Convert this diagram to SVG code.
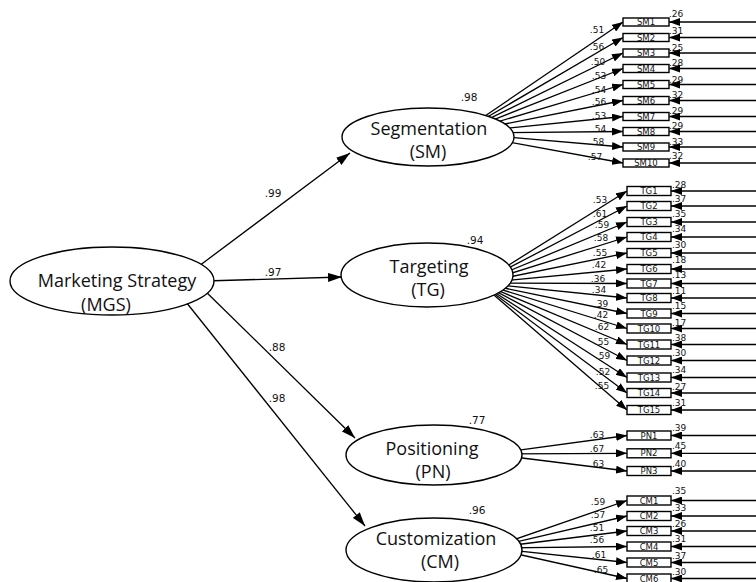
<svg xmlns="http://www.w3.org/2000/svg" width="756" height="582" viewBox="0 0 756 582">
<defs>
<marker id="ah" markerUnits="userSpaceOnUse" markerWidth="11" markerHeight="8" refX="11" refY="4" orient="auto"><path d="M0,0 L11,4 L0,8 z" fill="#000"/></marker>
<marker id="big" markerUnits="userSpaceOnUse" markerWidth="14" markerHeight="9" refX="14" refY="4.5" orient="auto"><path d="M0,0 L14,4.5 L0,9 z" fill="#000"/></marker>
</defs>
<style>
.ln{stroke:#000;stroke-width:1.3;fill:none;marker-end:url(#ah)}
.mn{stroke:#000;stroke-width:1.3;fill:none;marker-end:url(#big)}
.el{fill:#fff;stroke:#000;stroke-width:1.4}
.bx{fill:#fff;stroke:#000;stroke-width:1.4}
.big{font-family:"Open Sans","Liberation Sans",sans-serif;font-size:18px;fill:#111;text-anchor:middle}
.pl{font-family:"DejaVu Sans",sans-serif;font-size:10.5px;fill:#111;text-anchor:middle}
.ld{font-family:"DejaVu Sans",sans-serif;font-size:9px;fill:#111;text-anchor:middle}
.er{font-family:"DejaVu Sans",sans-serif;font-size:9px;fill:#111}
.bt{font-family:"DejaVu Sans",sans-serif;font-size:8.5px;fill:#111;text-anchor:middle}
</style>
<rect width="756" height="582" fill="#fff"/>
<g id="connectors">
<line class="mn" x1="195" y1="269" x2="350" y2="153"/>
<line class="mn" x1="205" y1="281" x2="342" y2="277"/>
<line class="mn" x1="200" y1="286" x2="355" y2="438"/>
<line class="mn" x1="186" y1="302" x2="365" y2="526"/>
<text class="pl" x="273" y="197">.99</text>
<text class="pl" x="273" y="276">.97</text>
<text class="pl" x="277" y="351">.88</text>
<text class="pl" x="277" y="402">.98</text>
<!-- SM loadings -->
<line class="ln" x1="460" y1="133" x2="623" y2="22"/>
<line class="ln" x1="460" y1="133" x2="623" y2="37.5"/>
<line class="ln" x1="460" y1="133" x2="623" y2="53"/>
<line class="ln" x1="460" y1="133" x2="623" y2="68.5"/>
<line class="ln" x1="460" y1="133" x2="623" y2="84.5"/>
<line class="ln" x1="460" y1="133" x2="623" y2="100.5"/>
<line class="ln" x1="460" y1="133" x2="623" y2="116.5"/>
<line class="ln" x1="460" y1="133" x2="623" y2="131.5"/>
<line class="ln" x1="460" y1="133" x2="623" y2="147"/>
<line class="ln" x1="460" y1="133" x2="623" y2="163"/>
<text class="ld" x="597" y="32.5">.51</text>
<text class="ld" x="597" y="49.5">.56</text>
<text class="ld" x="598" y="64.5">.50</text>
<text class="ld" x="599" y="78.5">.53</text>
<text class="ld" x="599" y="92.5">.54</text>
<text class="ld" x="599" y="104.5">.56</text>
<text class="ld" x="599" y="118.5">.53</text>
<text class="ld" x="599" y="131.5">.54</text>
<text class="ld" x="597" y="144.5">.58</text>
<text class="ld" x="595" y="159.5">.57</text>
<!-- TG loadings -->
<line class="ln" x1="480" y1="283" x2="627" y2="191"/>
<line class="ln" x1="480" y1="283" x2="627" y2="206"/>
<line class="ln" x1="480" y1="283" x2="627" y2="222"/>
<line class="ln" x1="480" y1="283" x2="627" y2="237"/>
<line class="ln" x1="480" y1="283" x2="627" y2="253"/>
<line class="ln" x1="480" y1="283" x2="627" y2="269"/>
<line class="ln" x1="480" y1="283" x2="627" y2="283.5"/>
<line class="ln" x1="480" y1="283" x2="627" y2="298"/>
<line class="ln" x1="480" y1="283" x2="627" y2="313.5"/>
<line class="ln" x1="480" y1="283" x2="627" y2="328.5"/>
<line class="ln" x1="480" y1="283" x2="627" y2="344.5"/>
<line class="ln" x1="480" y1="283" x2="627" y2="360.5"/>
<line class="ln" x1="480" y1="283" x2="627" y2="377.5"/>
<line class="ln" x1="480" y1="283" x2="627" y2="393"/>
<line class="ln" x1="480" y1="283" x2="627" y2="410"/>
<text class="ld" x="600" y="202.5">.53</text>
<text class="ld" x="600" y="216.5">.61</text>
<text class="ld" x="602" y="227.5">.59</text>
<text class="ld" x="601" y="240.5">.58</text>
<text class="ld" x="600" y="255.5">.55</text>
<text class="ld" x="599" y="267.5">.42</text>
<text class="ld" x="598" y="281.5">.36</text>
<text class="ld" x="599" y="292.5">.34</text>
<text class="ld" x="601" y="306.5">.39</text>
<text class="ld" x="601" y="317.5">.42</text>
<text class="ld" x="602" y="329.5">.62</text>
<text class="ld" x="602" y="344.5">.55</text>
<text class="ld" x="603" y="358.5">.59</text>
<text class="ld" x="603" y="374.5">.52</text>
<text class="ld" x="602" y="388.5">.55</text>
<!-- PN loadings -->
<line class="ln" x1="490" y1="454" x2="627" y2="435.5"/>
<line class="ln" x1="490" y1="454" x2="627" y2="453.3"/>
<line class="ln" x1="490" y1="454" x2="627" y2="471"/>
<text class="ld" x="597" y="438">.63</text>
<text class="ld" x="597" y="452">.67</text>
<text class="ld" x="597" y="467">.63</text>
<!-- CM loadings -->
<line class="ln" x1="490" y1="548" x2="627" y2="500.5"/>
<line class="ln" x1="490" y1="548" x2="627" y2="516"/>
<line class="ln" x1="490" y1="548" x2="627" y2="531"/>
<line class="ln" x1="490" y1="548" x2="627" y2="546.5"/>
<line class="ln" x1="490" y1="548" x2="627" y2="562.5"/>
<line class="ln" x1="490" y1="548" x2="627" y2="578.5"/>
<text class="ld" x="598" y="504.5">.59</text>
<text class="ld" x="598" y="517.5">.57</text>
<text class="ld" x="597" y="530.5">.51</text>
<text class="ld" x="597" y="542.5">.56</text>
<text class="ld" x="599" y="557.5">.61</text>
<text class="ld" x="601" y="572.5">.65</text>
<!-- error arrows -->
<line class="ln" x1="756" y1="22" x2="669" y2="22"/>
<line class="ln" x1="756" y1="37.5" x2="669" y2="37.5"/>
<line class="ln" x1="756" y1="53" x2="669" y2="53"/>
<line class="ln" x1="756" y1="68.5" x2="669" y2="68.5"/>
<line class="ln" x1="756" y1="84.5" x2="669" y2="84.5"/>
<line class="ln" x1="756" y1="100.5" x2="669" y2="100.5"/>
<line class="ln" x1="756" y1="116.5" x2="669" y2="116.5"/>
<line class="ln" x1="756" y1="131.5" x2="669" y2="131.5"/>
<line class="ln" x1="756" y1="147" x2="669" y2="147"/>
<line class="ln" x1="756" y1="163" x2="669" y2="163"/>
<line class="ln" x1="756" y1="191" x2="671" y2="191"/>
<line class="ln" x1="756" y1="206" x2="671" y2="206"/>
<line class="ln" x1="756" y1="222" x2="671" y2="222"/>
<line class="ln" x1="756" y1="237" x2="671" y2="237"/>
<line class="ln" x1="756" y1="253" x2="671" y2="253"/>
<line class="ln" x1="756" y1="269" x2="671" y2="269"/>
<line class="ln" x1="756" y1="283.5" x2="671" y2="283.5"/>
<line class="ln" x1="756" y1="298" x2="671" y2="298"/>
<line class="ln" x1="756" y1="313.5" x2="671" y2="313.5"/>
<line class="ln" x1="756" y1="328.5" x2="671" y2="328.5"/>
<line class="ln" x1="756" y1="344.5" x2="671" y2="344.5"/>
<line class="ln" x1="756" y1="360.5" x2="671" y2="360.5"/>
<line class="ln" x1="756" y1="377.5" x2="671" y2="377.5"/>
<line class="ln" x1="756" y1="393" x2="671" y2="393"/>
<line class="ln" x1="756" y1="410" x2="671" y2="410"/>
<line class="ln" x1="756" y1="435.5" x2="671" y2="435.5"/>
<line class="ln" x1="756" y1="453.3" x2="671" y2="453.3"/>
<line class="ln" x1="756" y1="471" x2="671" y2="471"/>
<line class="ln" x1="756" y1="500.5" x2="671" y2="500.5"/>
<line class="ln" x1="756" y1="516" x2="671" y2="516"/>
<line class="ln" x1="756" y1="531" x2="671" y2="531"/>
<line class="ln" x1="756" y1="546.5" x2="671" y2="546.5"/>
<line class="ln" x1="756" y1="562.5" x2="671" y2="562.5"/>
<line class="ln" x1="756" y1="578.5" x2="671" y2="578.5"/>
<text class="er" x="669" y="16.5">.26</text>
<text class="er" x="669" y="33.5">.31</text>
<text class="er" x="669" y="50.5">.25</text>
<text class="er" x="669" y="65.5">.28</text>
<text class="er" x="669" y="82.5">.29</text>
<text class="er" x="669" y="97.5">.32</text>
<text class="er" x="669" y="113.5">.29</text>
<text class="er" x="669" y="128.5">.29</text>
<text class="er" x="669" y="144.5">.33</text>
<text class="er" x="669" y="158.5">.32</text>
<text class="er" x="672" y="187.5">.28</text>
<text class="er" x="672" y="201.5">.37</text>
<text class="er" x="672" y="216.5">.35</text>
<text class="er" x="672" y="231.5">.34</text>
<text class="er" x="672" y="247.5">.30</text>
<text class="er" x="672" y="262.5">.18</text>
<text class="er" x="672" y="277.5">.13</text>
<text class="er" x="672" y="293.5">.11</text>
<text class="er" x="672" y="308.5">.15</text>
<text class="er" x="672" y="325.5">.17</text>
<text class="er" x="672" y="340.5">.38</text>
<text class="er" x="672" y="355.5">.30</text>
<text class="er" x="672" y="372.5">.34</text>
<text class="er" x="672" y="389.5">.27</text>
<text class="er" x="672" y="405.5">.31</text>
<text class="er" x="672" y="430.5">.39</text>
<text class="er" x="672" y="448.5">.45</text>
<text class="er" x="672" y="466.5">.40</text>
<text class="er" x="672" y="494">.35</text>
<text class="er" x="672" y="510.5">.33</text>
<text class="er" x="672" y="526.5">.26</text>
<text class="er" x="672" y="541.5">.31</text>
<text class="er" x="672" y="558.5">.37</text>
<text class="er" x="672" y="575">.30</text>
</g>
<g id="MGS">
<ellipse class="el" cx="112" cy="281" rx="102" ry="34"/>
<text class="big" x="117" y="287">Marketing Strategy</text>
<text class="big" x="106" y="311">(MGS)</text>
</g>
<g id="SM">
<ellipse class="el" cx="428" cy="137" rx="86" ry="29"/>
<text class="big" x="429" y="135">Segmentation</text>
<text class="big" x="428" y="158">(SM)</text>
<text class="pl" x="469" y="101">.98</text>
</g>
<g id="TG">
<ellipse class="el" cx="427" cy="275" rx="86" ry="32"/>
<text class="big" x="429" y="273">Targeting</text>
<text class="big" x="428" y="296">(TG)</text>
<text class="pl" x="475" y="244">.94</text>
</g>
<g id="PN">
<ellipse class="el" cx="434" cy="455" rx="88" ry="30"/>
<text class="big" x="432" y="454.5">Positioning</text>
<text class="big" x="433" y="477.5">(PN)</text>
<text class="pl" x="477" y="424">.77</text>
</g>
<g id="CM">
<ellipse class="el" cx="434" cy="550" rx="88" ry="32"/>
<text class="big" x="436" y="545">Customization</text>
<text class="big" x="440" y="568">(CM)</text>
<text class="pl" x="477" y="514">.96</text>
</g>
<g id="SM1"><rect class="bx" x="623" y="18" width="46" height="8"/><text class="bt" x="646" y="25">SM1</text></g>
<g id="SM2"><rect class="bx" x="623" y="33.5" width="46" height="8"/><text class="bt" x="646" y="40.5">SM2</text></g>
<g id="SM3"><rect class="bx" x="623" y="49" width="46" height="8"/><text class="bt" x="646" y="56">SM3</text></g>
<g id="SM4"><rect class="bx" x="623" y="64.5" width="46" height="8"/><text class="bt" x="646" y="71.5">SM4</text></g>
<g id="SM5"><rect class="bx" x="623" y="80.5" width="46" height="8"/><text class="bt" x="646" y="87.5">SM5</text></g>
<g id="SM6"><rect class="bx" x="623" y="96.5" width="46" height="8"/><text class="bt" x="646" y="103.5">SM6</text></g>
<g id="SM7"><rect class="bx" x="623" y="112.5" width="46" height="8"/><text class="bt" x="646" y="119.5">SM7</text></g>
<g id="SM8"><rect class="bx" x="623" y="127.5" width="46" height="8"/><text class="bt" x="646" y="134.5">SM8</text></g>
<g id="SM9"><rect class="bx" x="623" y="143" width="46" height="8"/><text class="bt" x="646" y="150">SM9</text></g>
<g id="SM10"><rect class="bx" x="623" y="159" width="46" height="8"/><text class="bt" x="646" y="166">SM10</text></g>
<g id="TG1"><rect class="bx" x="627" y="186.5" width="44" height="9"/><text class="bt" x="649" y="194">TG1</text></g>
<g id="TG2"><rect class="bx" x="627" y="201.5" width="44" height="9"/><text class="bt" x="649" y="209">TG2</text></g>
<g id="TG3"><rect class="bx" x="627" y="217.5" width="44" height="9"/><text class="bt" x="649" y="225">TG3</text></g>
<g id="TG4"><rect class="bx" x="627" y="232.5" width="44" height="9"/><text class="bt" x="649" y="240">TG4</text></g>
<g id="TG5"><rect class="bx" x="627" y="248.5" width="44" height="9"/><text class="bt" x="649" y="256">TG5</text></g>
<g id="TG6"><rect class="bx" x="627" y="264.5" width="44" height="9"/><text class="bt" x="649" y="272">TG6</text></g>
<g id="TG7"><rect class="bx" x="627" y="279" width="44" height="9"/><text class="bt" x="649" y="286.5">TG7</text></g>
<g id="TG8"><rect class="bx" x="627" y="293.5" width="44" height="9"/><text class="bt" x="649" y="301">TG8</text></g>
<g id="TG9"><rect class="bx" x="627" y="309" width="44" height="9"/><text class="bt" x="649" y="316.5">TG9</text></g>
<g id="TG10"><rect class="bx" x="627" y="324" width="44" height="9"/><text class="bt" x="649" y="331.5">TG10</text></g>
<g id="TG11"><rect class="bx" x="627" y="340" width="44" height="9"/><text class="bt" x="649" y="347.5">TG11</text></g>
<g id="TG12"><rect class="bx" x="627" y="356" width="44" height="9"/><text class="bt" x="649" y="363.5">TG12</text></g>
<g id="TG13"><rect class="bx" x="627" y="373" width="44" height="9"/><text class="bt" x="649" y="380.5">TG13</text></g>
<g id="TG14"><rect class="bx" x="627" y="388.5" width="44" height="9"/><text class="bt" x="649" y="396">TG14</text></g>
<g id="TG15"><rect class="bx" x="627" y="405.5" width="44" height="9"/><text class="bt" x="649" y="413">TG15</text></g>
<g id="PN1"><rect class="bx" x="627" y="431" width="44" height="9"/><text class="bt" x="649" y="438.5">PN1</text></g>
<g id="PN2"><rect class="bx" x="627" y="448.8" width="44" height="9"/><text class="bt" x="649" y="456.3">PN2</text></g>
<g id="PN3"><rect class="bx" x="627" y="466.5" width="44" height="9"/><text class="bt" x="649" y="474">PN3</text></g>
<g id="CM1"><rect class="bx" x="627" y="496" width="44" height="9"/><text class="bt" x="649" y="503.5">CM1</text></g>
<g id="CM2"><rect class="bx" x="627" y="511.5" width="44" height="9"/><text class="bt" x="649" y="519">CM2</text></g>
<g id="CM3"><rect class="bx" x="627" y="526.5" width="44" height="9"/><text class="bt" x="649" y="534">CM3</text></g>
<g id="CM4"><rect class="bx" x="627" y="542" width="44" height="9"/><text class="bt" x="649" y="549.5">CM4</text></g>
<g id="CM5"><rect class="bx" x="627" y="558" width="44" height="9"/><text class="bt" x="649" y="565.5">CM5</text></g>
<g id="CM6"><rect class="bx" x="627" y="574" width="44" height="9"/><text class="bt" x="649" y="581.5">CM6</text></g>
</svg>
